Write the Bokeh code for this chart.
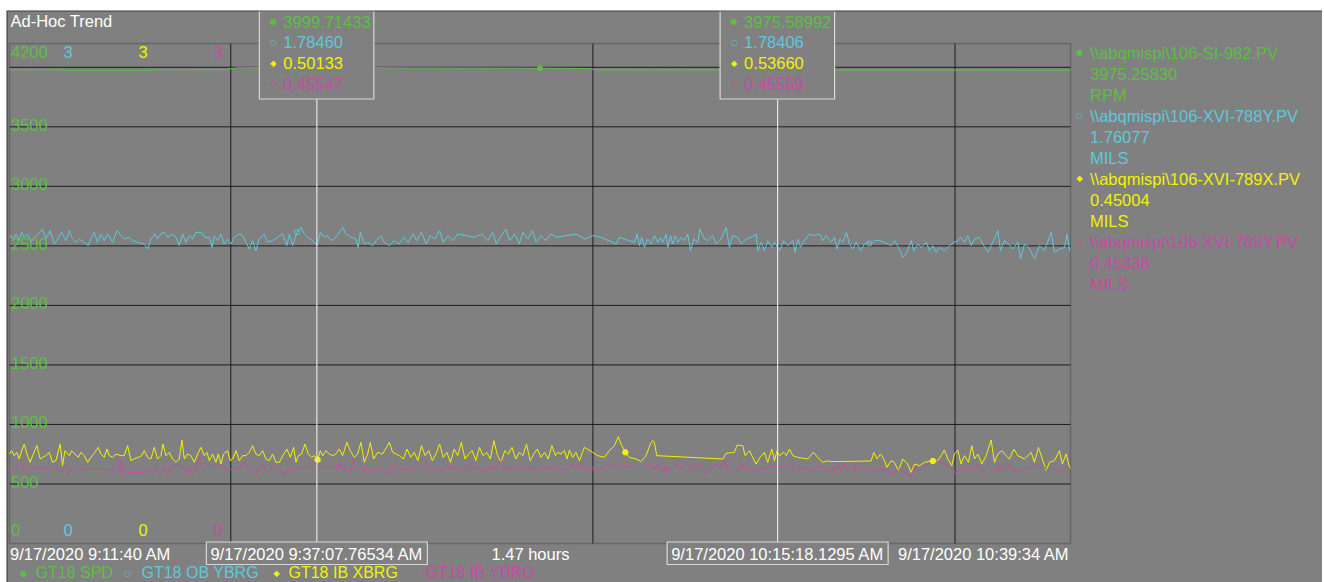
from bokeh.plotting import figure
from bokeh.models import Range1d, Label, BoxAnnotation
from bokeh.core.properties import value
from bokeh.embed import file_html
from bokeh.resources import INLINE

# ---------------- data ----------------
title_text = "Ad-Hoc Trend"
t_start = 11 + 40 / 60          # minutes after 9:00 AM (9:11:40)
t_end = 99 + 34 / 60            # 10:39:34
start_label = "9/17/2020 9:11:40 AM"
end_label = "9/17/2020 10:39:34 AM"
span_label = "1.47 hours"
time_grid = [30, 60, 90]
spd_grid = [500, 1000, 1500, 2000, 2500, 3000, 3500, 4000]
spd_tick_values = [500, 1000, 1500, 2000, 2500, 3000, 3500]
spd_tick_labels = ["500", "1000", "1500", "2000", "2500", "3000", "3500"]

trace_short = ["GT18 SPD", "GT18 OB YBRG", "GT18 IB XBRG", "GT18 IB YBRG"]
trace_tags = [r"\\abqmispi\106-SI-982.PV", r"\\abqmispi\106-XVI-788Y.PV",
              r"\\abqmispi\106-XVI-789X.PV", r"\\abqmispi\106-XVI-789Y.PV"]
trace_current = ["3975.25830", "1.76077", "0.45004", "0.45338"]
trace_units = ["RPM", "MILS", "MILS", "MILS"]
scale_min = [0, 0, 0, 0]
scale_max = [4200, 3, 3, 3]
scale_min_labels = ["0", "0", "0", "0"]
scale_max_labels = ["4200", "3", "3", "3"]

cursor_times = [37 + 7.76534 / 60, 75 + 18.1295 / 60]
cursor_labels = ["9/17/2020 9:37:07.76534 AM", "9/17/2020 10:15:18.1295 AM"]
cursor_values = [["3999.71433", "1.78460", "0.50133", "0.45547"],
                 ["3975.58992", "1.78406", "0.53660", "0.45559"]]

spd_pts = [(11.67, 3979), (16.0, 3978), (16.1, 3972), (23.3, 3972), (23.4, 3978),
           (29.5, 3980), (30.5, 3996), (37.13, 3999.7), (45.0, 3995), (55.62, 3993),
           (59.5, 3990), (60.5, 3977), (75.3, 3975.6), (90.0, 3976), (99.57, 3975.3)]

ob_pts = [(11.67, 1.837), (11.78, 1.847), (12.00, 1.827), (12.20, 1.857), (12.47, 1.817), (12.67, 1.867),
          (12.89, 1.837), (13.16, 1.857), (13.44, 1.807), (13.72, 1.837), (14.05, 1.857), (14.41, 1.887),
          (14.68, 1.827), (15.04, 1.877), (15.37, 1.797), (15.65, 1.827), (15.98, 1.867), (16.34, 1.817),
          (16.62, 1.877), (16.89, 1.827), (17.17, 1.807), (17.45, 1.827), (17.86, 1.807), (18.19, 1.787),
          (18.41, 1.827), (18.69, 1.867), (18.96, 1.807), (19.24, 1.857), (19.52, 1.817), (19.79, 1.857),
          (20.21, 1.807), (20.57, 1.877), (20.90, 1.847), (21.23, 1.827), (21.59, 1.837), (21.86, 1.817),
          (22.28, 1.807), (22.83, 1.797), (23.11, 1.767), (23.38, 1.827), (23.72, 1.857), (23.94, 1.827),
          (24.21, 1.857), (24.49, 1.867), (24.76, 1.837), (25.18, 1.857), (25.46, 1.837), (25.73, 1.787),
          (26.01, 1.857), (26.28, 1.807), (26.56, 1.847), (26.84, 1.827), (27.11, 1.867), (27.53, 1.867),
          (27.86, 1.837), (28.22, 1.837), (28.44, 1.777), (28.63, 1.847), (28.91, 1.817), (29.18, 1.857),
          (29.46, 1.797), (29.74, 1.827), (30.01, 1.797), (30.29, 1.837), (30.70, 1.857), (30.98, 1.847),
          (31.26, 1.807), (31.53, 1.767), (31.81, 1.817), (32.08, 1.757), (32.36, 1.827), (32.77, 1.857),
          (33.05, 1.807), (33.46, 1.817), (33.88, 1.837), (34.29, 1.857), (34.65, 1.787), (34.85, 1.857),
          (35.12, 1.787), (35.48, 1.867), (35.81, 1.897), (36.09, 1.857), (36.37, 1.837), (36.78, 1.817),
          (37.14, 1.787), (37.42, 1.867), (37.75, 1.837), (38.02, 1.847), (38.30, 1.817), (38.71, 1.837),
          (39.27, 1.897), (39.54, 1.857), (39.96, 1.837), (40.37, 1.827), (40.56, 1.777), (40.73, 1.867),
          (41.06, 1.797), (41.34, 1.807), (41.75, 1.787), (42.03, 1.817), (42.44, 1.847), (42.72, 1.807),
          (43.13, 1.787), (43.55, 1.817), (43.96, 1.797), (44.3, 1.837), (44.7, 1.807), (45.1, 1.857),
          (45.4, 1.817), (45.8, 1.867), (46.2, 1.797), (46.5, 1.847), (46.9, 1.827), (47.3, 1.877),
          (47.6, 1.807), (48.0, 1.847), (48.4, 1.817), (48.8, 1.857), (49.5, 1.847), (50.2, 1.837),
          (50.8, 1.857), (51.3, 1.817), (51.7, 1.867), (52.0, 1.797), (52.4, 1.847), (52.8, 1.887),
          (53.1, 1.817), (53.5, 1.857), (53.9, 1.797), (54.2, 1.867), (54.6, 1.827), (55.0, 1.877),
          (55.3, 1.807), (55.7, 1.847), (56.1, 1.817), (56.5, 1.857), (57.0, 1.837), (57.8, 1.847),
          (58.6, 1.857), (59.3, 1.827), (60.0, 1.847), (60.68, 1.837), (61.92, 1.797), (62.20, 1.837),
          (63.44, 1.807), (63.66, 1.857), (63.86, 1.787), (64.05, 1.837), (64.27, 1.777), (64.55, 1.827),
          (64.82, 1.797), (65.10, 1.847), (65.38, 1.807), (65.60, 1.837), (65.79, 1.807), (66.07, 1.857),
          (66.20, 1.777), (66.43, 1.847), (66.62, 1.797), (66.81, 1.847), (67.03, 1.807), (67.31, 1.837),
          (67.59, 1.817), (67.86, 1.857), (68.08, 1.757), (68.36, 1.827), (68.69, 1.807), (68.86, 1.887),
          (69.24, 1.827), (69.52, 1.817), (69.93, 1.847), (70.21, 1.797), (70.62, 1.827), (71.04, 1.897),
          (71.31, 1.777), (71.59, 1.847), (72.00, 1.837), (72.28, 1.797), (72.69, 1.827), (73.11, 1.837),
          (73.52, 1.857), (73.66, 1.757), (73.94, 1.807), (74.21, 1.757), (74.49, 1.817), (74.82, 1.777),
          (75.04, 1.807), (75.46, 1.757), (75.82, 1.817), (76.15, 1.787), (76.56, 1.817), (76.75, 1.747),
          (76.98, 1.827), (77.20, 1.777), (77.53, 1.817), (77.94, 1.857), (78.36, 1.847), (78.77, 1.857),
          (79.05, 1.817), (79.32, 1.847), (79.74, 1.807), (80.01, 1.837), (80.23, 1.767), (80.46, 1.827),
          (80.70, 1.807), (81.01, 1.867), (81.26, 1.797), (81.53, 1.767), (81.81, 1.807), (82.17, 1.757),
          (82.50, 1.797), (82.78, 1.807), (83.05, 1.797), (83.33, 1.817), (83.74, 1.817), (84.16, 1.807),
          (84.71, 1.787), (84.99, 1.817), (85.32, 1.777), (85.68, 1.717), (85.95, 1.737), (86.37, 1.817),
          (86.59, 1.757), (86.92, 1.797), (87.20, 1.777), (87.61, 1.807), (87.89, 1.757), (88.16, 1.787),
          (88.44, 1.747), (88.71, 1.777), (89.13, 1.757), (89.54, 1.787), (89.90, 1.807), (90.23, 1.817),
          (90.51, 1.837), (90.79, 1.807), (91.06, 1.847), (91.34, 1.787), (91.61, 1.827), (92.03, 1.837),
          (92.30, 1.797), (92.72, 1.747), (92.99, 1.787), (93.55, 1.877), (93.77, 1.757), (94.10, 1.817),
          (94.43, 1.797), (94.79, 1.767), (95.21, 1.807), (95.43, 1.707), (95.76, 1.797), (96.09, 1.777),
          (96.59, 1.707), (97.00, 1.787), (97.41, 1.757), (97.97, 1.867), (98.24, 1.747), (98.66, 1.767),
          (99.07, 1.777), (99.29, 1.857), (99.49, 1.757), (99.57, 1.761)]

ibx_pts = [(11.67, 0.537), (11.84, 0.557), (12.06, 0.527), (12.28, 0.547), (12.47, 0.507), (12.67, 0.557),
           (12.89, 0.597), (13.11, 0.537), (13.38, 0.487), (13.58, 0.527), (13.94, 0.587), (14.21, 0.507),
           (14.41, 0.517), (14.68, 0.527), (14.96, 0.547), (15.23, 0.487), (15.51, 0.497), (15.87, 0.597),
           (16.06, 0.467), (16.26, 0.557), (16.62, 0.527), (16.81, 0.557), (17.09, 0.537), (17.36, 0.517),
           (17.58, 0.547), (17.86, 0.527), (18.14, 0.487), (18.41, 0.517), (18.74, 0.547), (19.02, 0.577),
           (19.24, 0.537), (19.52, 0.517), (19.74, 0.567), (19.93, 0.527), (20.21, 0.517), (20.48, 0.537),
           (20.90, 0.527), (21.17, 0.527), (21.45, 0.587), (21.73, 0.497), (22.00, 0.507), (22.33, 0.517),
           (22.61, 0.527), (22.83, 0.557), (23.11, 0.517), (23.38, 0.507), (23.66, 0.577), (23.94, 0.507),
           (24.21, 0.527), (24.38, 0.597), (24.63, 0.527), (24.90, 0.547), (25.18, 0.507), (25.46, 0.487),
           (25.73, 0.507), (25.95, 0.621), (26.15, 0.507), (26.42, 0.537), (26.70, 0.527), (26.97, 0.487),
           (27.25, 0.537), (27.53, 0.577), (27.80, 0.527), (28.02, 0.547), (28.22, 0.497), (28.49, 0.537),
           (28.77, 0.487), (28.96, 0.537), (29.18, 0.477), (29.40, 0.537), (29.74, 0.557), (29.96, 0.497),
           (30.15, 0.507), (30.43, 0.557), (30.70, 0.497), (30.98, 0.527), (31.26, 0.527), (31.53, 0.547),
           (31.81, 0.587), (32.08, 0.537), (32.36, 0.527), (32.64, 0.557), (32.91, 0.507), (33.19, 0.497),
           (33.46, 0.537), (33.74, 0.487), (34.02, 0.487), (34.38, 0.537), (34.65, 0.567), (34.93, 0.517),
           (35.21, 0.577), (35.40, 0.487), (35.59, 0.527), (35.87, 0.537), (36.14, 0.597), (36.42, 0.537),
           (36.70, 0.517), (36.92, 0.527), (37.19, 0.503), (37.41, 0.557), (37.61, 0.527), (37.88, 0.557),
           (38.16, 0.537), (38.44, 0.527), (38.71, 0.537), (38.99, 0.567), (39.27, 0.527), (39.62, 0.607),
           (39.90, 0.557), (40.23, 0.517), (40.51, 0.537), (40.78, 0.607), (41.06, 0.487), (41.34, 0.537),
           (41.56, 0.607), (41.83, 0.507), (42.17, 0.547), (42.58, 0.537), (43.13, 0.607), (43.41, 0.547),
           (43.69, 0.537), (43.96, 0.527), (44.3, 0.507), (44.6, 0.567), (44.9, 0.517), (45.2, 0.547),
           (45.5, 0.497), (45.8, 0.587), (46.1, 0.527), (46.4, 0.557), (46.7, 0.497), (47.0, 0.537),
           (47.3, 0.597), (47.6, 0.517), (47.9, 0.547), (48.2, 0.487), (48.5, 0.567), (48.8, 0.527),
           (49.1, 0.607), (49.4, 0.507), (49.7, 0.537), (50.0, 0.557), (50.3, 0.497), (50.6, 0.577),
           (50.9, 0.527), (51.2, 0.547), (51.5, 0.507), (51.8, 0.617), (52.1, 0.527), (52.4, 0.487),
           (52.7, 0.557), (53.0, 0.537), (53.3, 0.577), (53.6, 0.507), (53.9, 0.547), (54.2, 0.527),
           (54.5, 0.597), (54.8, 0.497), (55.1, 0.537), (55.4, 0.567), (55.7, 0.517), (56.0, 0.547),
           (56.3, 0.507), (56.6, 0.587), (56.9, 0.527), (57.1, 0.547), (57.36, 0.537), (57.64, 0.557),
           (57.86, 0.507), (58.05, 0.561), (58.33, 0.517), (58.60, 0.547), (58.88, 0.497), (59.29, 0.577),
           (59.98, 0.547), (60.40, 0.527), (60.95, 0.517), (61.36, 0.557), (61.78, 0.587), (62.11, 0.641),
           (62.33, 0.597), (62.69, 0.547), (63.02, 0.517), (63.57, 0.507), (63.99, 0.491), (64.40, 0.527),
           (64.76, 0.597), (64.96, 0.617), (65.09, 0.607), (65.29, 0.527), (70.76, 0.507), (71.03, 0.541),
           (71.72, 0.547), (71.94, 0.591), (72.41, 0.587), (72.61, 0.527), (72.97, 0.557), (73.24, 0.517),
           (73.52, 0.477), (73.85, 0.517), (74.21, 0.547), (74.48, 0.487), (74.82, 0.567), (75.04, 0.497),
           (75.26, 0.557), (75.45, 0.527), (75.81, 0.547), (76.03, 0.527), (76.28, 0.567), (76.56, 0.527),
           (76.97, 0.517), (77.80, 0.507), (78.27, 0.547), (78.63, 0.517), (79.04, 0.487), (79.46, 0.497),
           (79.60, 0.491), (83.05, 0.495), (83.27, 0.547), (83.54, 0.507), (83.82, 0.537), (84.10, 0.507),
           (84.37, 0.457), (84.70, 0.497), (84.98, 0.487), (85.31, 0.437), (85.67, 0.507), (86.08, 0.477),
           (86.36, 0.427), (86.64, 0.477), (87.05, 0.467), (87.47, 0.487), (87.88, 0.493), (88.16, 0.495),
           (88.57, 0.497), (88.85, 0.527), (89.12, 0.561), (89.40, 0.507), (89.73, 0.467), (89.95, 0.537),
           (90.23, 0.561), (90.50, 0.477), (90.78, 0.527), (91.11, 0.487), (91.39, 0.587), (91.61, 0.507),
           (91.89, 0.537), (92.22, 0.477), (92.58, 0.527), (92.99, 0.621), (93.27, 0.487), (93.55, 0.537),
           (93.88, 0.557), (94.23, 0.527), (94.51, 0.507), (94.87, 0.567), (95.20, 0.527), (95.75, 0.507),
           (96.31, 0.547), (96.58, 0.487), (96.91, 0.577), (97.19, 0.517), (97.55, 0.437), (97.82, 0.487),
           (98.24, 0.497), (98.65, 0.557), (98.90, 0.477), (99.20, 0.537), (99.45, 0.467), (99.57, 0.450)]

iby_pts = [(11.67, 0.437), (12.06, 0.447), (12.47, 0.467), (12.67, 0.487), (12.89, 0.427), (13.16, 0.447),
           (13.58, 0.457), (13.99, 0.447), (14.41, 0.457), (14.82, 0.447), (15.15, 0.467), (15.51, 0.467),
           (15.87, 0.427), (16.15, 0.457), (16.37, 0.467), (16.62, 0.417), (16.89, 0.467), (17.17, 0.447),
           (17.72, 0.447), (19.24, 0.443), (20.76, 0.441), (20.90, 0.497), (21.12, 0.427), (21.45, 0.427),
           (22.83, 0.427), (23.25, 0.437), (23.66, 0.457), (24.07, 0.417), (24.43, 0.457), (24.76, 0.417),
           (25.04, 0.467), (25.32, 0.467), (26.01, 0.467), (26.28, 0.417), (26.56, 0.457), (26.84, 0.417),
           (27.11, 0.457), (27.39, 0.517), (27.66, 0.447), (28.02, 0.467), (28.36, 0.467), (28.77, 0.467),
           (29.05, 0.467), (29.40, 0.457), (29.74, 0.441), (30.29, 0.447), (30.84, 0.457), (31.12, 0.497),
           (31.39, 0.447), (31.81, 0.457), (32.08, 0.417), (32.36, 0.457), (32.64, 0.487), (32.91, 0.427),
           (33.19, 0.447), (33.46, 0.467), (33.88, 0.467), (34.29, 0.413), (34.71, 0.437), (35.26, 0.447),
           (35.81, 0.457), (37.19, 0.457), (38.57, 0.457), (38.85, 0.447), (39.07, 0.487), (39.27, 0.467),
           (39.54, 0.437), (39.82, 0.437), (40.18, 0.497), (40.45, 0.457), (40.78, 0.447), (41.06, 0.437),
           (41.34, 0.457), (41.83, 0.417), (42.11, 0.447), (42.44, 0.457), (42.99, 0.407), (43.27, 0.467),
           (43.69, 0.447), (43.96, 0.437), (44.4, 0.457), (44.9, 0.437), (45.3, 0.467), (45.8, 0.447),
           (46.2, 0.487), (46.6, 0.437), (47.1, 0.457), (47.5, 0.427), (47.9, 0.467), (48.4, 0.447),
           (48.8, 0.457), (49.3, 0.437), (49.7, 0.477), (50.2, 0.447), (50.6, 0.457), (51.1, 0.427),
           (51.5, 0.467), (51.9, 0.447), (52.4, 0.497), (52.8, 0.447), (53.3, 0.457), (53.7, 0.437),
           (54.1, 0.467), (54.6, 0.447), (55.0, 0.457), (55.5, 0.427), (55.9, 0.467), (56.4, 0.447),
           (56.8, 0.457), (57.36, 0.437), (57.91, 0.457), (58.33, 0.477), (58.60, 0.447), (59.02, 0.477),
           (59.43, 0.437), (59.98, 0.457), (60.12, 0.427), (60.67, 0.447), (61.50, 0.477), (61.92, 0.447),
           (62.33, 0.467), (62.88, 0.457), (63.44, 0.467), (63.85, 0.437), (64.27, 0.467), (64.68, 0.477),
           (65.09, 0.447), (65.37, 0.477), (65.65, 0.447), (65.92, 0.437), (66.20, 0.457), (66.47, 0.447),
           (66.89, 0.477), (67.30, 0.447), (67.72, 0.487), (68.13, 0.437), (68.55, 0.477), (68.96, 0.467),
           (69.37, 0.417), (69.79, 0.457), (70.20, 0.477), (70.62, 0.457), (70.89, 0.497), (71.17, 0.447),
           (71.58, 0.467), (72.00, 0.437), (72.27, 0.487), (72.69, 0.437), (72.97, 0.457), (73.38, 0.437),
           (73.93, 0.447), (74.48, 0.457), (75.04, 0.467), (75.45, 0.457), (75.87, 0.467), (76.42, 0.487),
           (76.69, 0.437), (77.11, 0.447), (77.52, 0.457), (77.94, 0.447), (78.35, 0.437), (78.63, 0.467),
           (79.04, 0.457), (79.46, 0.437), (80.01, 0.447), (80.28, 0.487), (80.56, 0.437), (80.84, 0.477),
           (81.11, 0.447), (81.39, 0.467), (81.67, 0.427), (81.80, 0.487), (82.08, 0.447), (82.49, 0.457),
           (83.05, 0.437), (83.88, 0.447), (84.29, 0.447), (84.43, 0.421), (84.98, 0.427), (85.39, 0.447),
           (85.81, 0.427), (86.36, 0.397), (86.64, 0.457), (87.05, 0.437), (87.47, 0.467), (87.88, 0.477),
           (88.29, 0.497), (88.85, 0.487), (89.40, 0.467), (89.82, 0.447), (90.09, 0.417), (90.50, 0.457),
           (90.92, 0.437), (91.19, 0.467), (91.61, 0.437), (91.89, 0.467), (92.30, 0.427), (92.71, 0.467),
           (93.13, 0.447), (93.54, 0.437), (93.82, 0.477), (94.10, 0.447), (94.51, 0.467), (94.92, 0.437),
           (95.34, 0.427), (95.75, 0.457), (96.31, 0.447), (96.72, 0.477), (97.00, 0.447), (97.27, 0.467),
           (97.69, 0.437), (98.10, 0.447), (98.51, 0.437), (98.90, 0.447), (99.20, 0.457), (99.57, 0.453)]

spd_marks = [(55.62, 3993)]
ob_marks = [(35.48, 1.867), (82.90, 1.800)]
ibx_marks = [(37.19, 0.503), (62.69, 0.547), (88.16, 0.495)]
iby_marks = [(38.99, 0.467), (66.06, 0.447)]

# ---------------- style / layout ----------------
BG = "#808080"
GRID = "#1c1c1c"
BOXLINE = "#d8d8d8"
COLORS = ["#5cbf45", "#5ec8dc", "#f2f200", "#c64aa6"]
MARK_CHARS = ["\u25cf", "\u25cb", "\u25c6", "\u25c7"]
FONT = "Liberation Sans"
FS = "16.5px"
OX, OY = 6, 10            # page position of the trend window (canvas origin)
W, H = 1316, 572
FL, FR, FT, FB = 9, 1070, 43, 543   # plot-area edges on the page

# The canvas is the whole trend window; ranges are widened so that the
# scales' own extents fall on the plot area inside the window.
px_per_min = (FR - FL) / (t_end - t_start)
x_rng = Range1d(t_start - (FL - OX) / px_per_min, t_end + (OX + W - FR) / px_per_min)


def y_rng(lo, hi):
    ppu = (FB - FT) / (hi - lo)
    return Range1d(lo - (OY + H - FB) / ppu, hi + (FT - OY) / ppu)


p = figure(width=W, height=H, x_range=x_rng, y_range=y_rng(scale_min[0], scale_max[0]),
           x_axis_type=None, y_axis_type=None, toolbar_location=None,
           output_backend="svg", min_border=0,
           background_fill_color=BG, border_fill_color=BG, outline_line_color=None)
p.margin = (OY, 0, 0, OX)

p.extra_y_ranges = {"ob": y_rng(scale_min[1], scale_max[1]),
                    "ibx": y_rng(scale_min[2], scale_max[2]),
                    "iby": y_rng(scale_min[3], scale_max[3])}
range_names = ["default", "ob", "ibx", "iby"]

# grid lines of the plot area
p.segment(x0=time_grid, y0=[scale_min[0]] * len(time_grid), x1=time_grid,
          y1=[scale_max[0]] * len(time_grid), line_color=GRID, line_width=1)
p.segment(x0=[t_start] * len(spd_grid), y0=spd_grid, x1=[t_end] * len(spd_grid),
          y1=spd_grid, line_color=GRID, line_width=1)

series = [spd_pts, ob_pts, ibx_pts, iby_pts]
marks = [spd_marks, ob_marks, ibx_marks, iby_marks]
mark_kind = [("circle", 5, True), ("circle", 5, False), ("circle", 5.5, True), ("diamond", 6, False)]

for pts, rn, col in zip(series, range_names, COLORS):
    xs = [a for a, b in pts]
    ys = [b for a, b in pts]
    p.line(xs, ys, y_range_name=rn, line_color=col, line_width=1)

for mk, rn, col, (kind, size, filled) in zip(marks, range_names, COLORS, mark_kind):
    xs = [a for a, b in mk]
    ys = [b for a, b in mk]
    p.scatter(xs, ys, y_range_name=rn, marker=kind, size=size, line_color=col,
              fill_color=col if filled else None, line_width=1)

# cursor lines
p.segment(x0=cursor_times, y0=[scale_min[0]] * 2, x1=cursor_times, y1=[scale_max[0]] * 2,
          line_color="#e4e4e4", line_width=1.2)

# plot-area border
p.add_layout(BoxAnnotation(left=t_start, right=t_end, bottom=scale_min[0], top=scale_max[0],
                           fill_alpha=0, line_color="#2e2e2e", line_width=1.5, level="underlay"))

# scale labels inside the plot
col_offsets = [1.5, 54, 129, 204]
p.text(x=[t_start] * len(spd_tick_values), y=spd_tick_values, text=spd_tick_labels,
       x_offset=col_offsets[0], y_offset=-2, text_font=value(FONT), text_font_size=FS,
       text_color=COLORS[0], text_baseline="alphabetic", text_align="left")
for i in range(4):
    p.text(x=[t_start], y=[scale_max[i]], text=[scale_max_labels[i]], y_range_name=range_names[i],
           x_offset=col_offsets[i], y_offset=8.5, text_font=value(FONT), text_font_size=FS,
           text_color=COLORS[i], text_baseline="alphabetic", text_align="left")
    p.text(x=[t_start], y=[scale_min[i]], text=[scale_min_labels[i]], y_range_name=range_names[i],
           x_offset=col_offsets[i], y_offset=-13.5, text_font=value(FONT), text_font_size=FS,
           text_color=COLORS[i], text_baseline="alphabetic", text_align="left")


def lab(text, px, py, color, size=FS, align="left", font=FONT):
    p.add_layout(Label(x=px - OX, y=py - OY, x_units="canvas", y_units="canvas", text=text,
                       text_color=color, text_font=font, text_font_size=size,
                       text_align=align, text_baseline="middle"))


def box(l, r, t, b, line=BOXLINE, fill=BG):
    p.add_layout(BoxAnnotation(left=l - OX, right=r - OX, top=t - OY, bottom=b - OY,
                               left_units="canvas", right_units="canvas",
                               top_units="canvas", bottom_units="canvas",
                               fill_color=fill, fill_alpha=1 if fill else 0,
                               line_color=line, line_width=1.2, line_alpha=1))


for ct, clab, cvals in zip(cursor_times, cursor_labels, cursor_values):
    px = FL + (ct - t_start) * px_per_min
    bl = px - 57.5
    box(bl, bl + 114.5, 10.5, 98.5)
    for i in range(4):
        ry = 21 + 20.8 * i
        lab(MARK_CHARS[i], bl + 14, ry, COLORS[i], size="8px", align="center", font="DejaVu Sans")
        lab(cvals[i], bl + 24, ry, COLORS[i])
    box(px - 110.5, px + 110.5, 541.5, 564)
    lab(clab, px, 553, "#ffffff", align="center")

# title and time axis texts
lab(title_text, 10, 20, "#ffffff")
lab(start_label, 9.5, 553, "#ffffff")
lab(span_label, 491, 553, "#ffffff")
lab(end_label, 1069, 553, "#ffffff", align="right")

# right-hand legend
for i in range(4):
    y0 = 52 + 63 * i
    lab(MARK_CHARS[i], 1079, y0, COLORS[i], size="8px", align="center", font="DejaVu Sans")
    lab(trace_tags[i], 1089.5, y0, COLORS[i])
    lab(trace_current[i], 1089.5, y0 + 21, COLORS[i])
    lab(trace_units[i], 1089.5, y0 + 42, COLORS[i])

# bottom legend
leg_marker_x = [23, 127, 276, 415]
leg_text_x = [35, 141, 288, 425]
for i in range(4):
    lab(MARK_CHARS[i], leg_marker_x[i], 572.5, COLORS[i], size="8px", align="center", font="DejaVu Sans")
    lab(trace_short[i], leg_text_x[i], 572, COLORS[i], size="16px")

# outer frame of the trend window
box(6.5, 1330, 10.5, 600, line="#3a3a3a", fill=None)

open("out.html", "w").write(file_html(p, INLINE))
